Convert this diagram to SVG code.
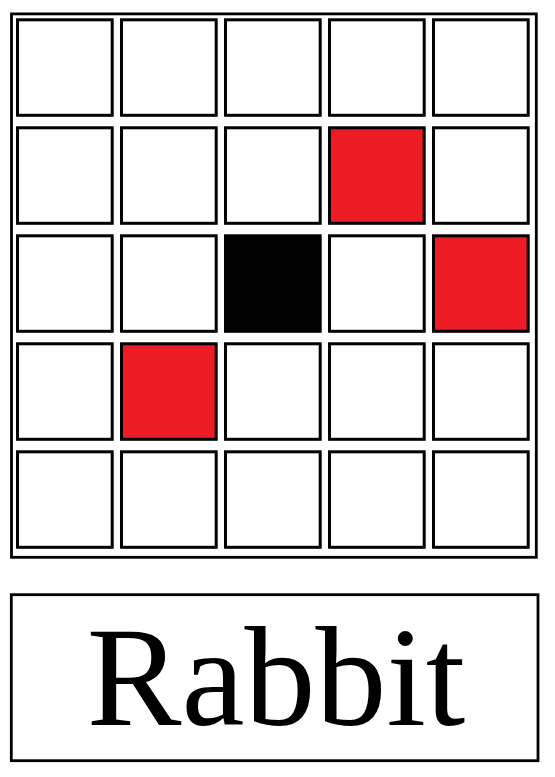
<svg xmlns="http://www.w3.org/2000/svg" width="555" height="777" viewBox="0 0 555 777">
<style>
.frame{fill:none;stroke:#000;stroke-width:2.8}
.cell{fill:#fff;stroke:#000;stroke-width:3}
.red{fill:#ED1C24}
.blk{fill:#000}
.lbl{font-family:"Liberation Serif","Times New Roman",serif;font-size:142px;fill:#000;text-anchor:middle}
</style>
<rect fill="#fff" x="0" y="0" width="555" height="777"/>
<g id="grid">
<rect class="frame" x="11.5" y="13.9" width="524.8" height="543.4"/>
<g id="r0">
<rect class="cell" x="17.5" y="19.8" width="94.7" height="95.5"/>
<rect class="cell" x="121.5" y="19.8" width="94.7" height="95.5"/>
<rect class="cell" x="225.5" y="19.8" width="94.7" height="95.5"/>
<rect class="cell" x="329.5" y="19.8" width="94.7" height="95.5"/>
<rect class="cell" x="433.5" y="19.8" width="94.7" height="95.5"/>
</g>
<g id="r1">
<rect class="cell" x="17.5" y="127.8" width="94.7" height="95.5"/>
<rect class="cell" x="121.5" y="127.8" width="94.7" height="95.5"/>
<rect class="cell" x="225.5" y="127.8" width="94.7" height="95.5"/>
<rect class="cell red" x="329.5" y="127.8" width="94.7" height="95.5"/>
<rect class="cell" x="433.5" y="127.8" width="94.7" height="95.5"/>
</g>
<g id="r2">
<rect class="cell" x="17.5" y="235.8" width="94.7" height="95.5"/>
<rect class="cell" x="121.5" y="235.8" width="94.7" height="95.5"/>
<rect class="cell blk" x="225.5" y="235.8" width="94.7" height="95.5"/>
<rect class="cell" x="329.5" y="235.8" width="94.7" height="95.5"/>
<rect class="cell red" x="433.5" y="235.8" width="94.7" height="95.5"/>
</g>
<g id="r3">
<rect class="cell" x="17.5" y="343.8" width="94.7" height="95.5"/>
<rect class="cell red" x="121.5" y="343.8" width="94.7" height="95.5"/>
<rect class="cell" x="225.5" y="343.8" width="94.7" height="95.5"/>
<rect class="cell" x="329.5" y="343.8" width="94.7" height="95.5"/>
<rect class="cell" x="433.5" y="343.8" width="94.7" height="95.5"/>
</g>
<g id="r4">
<rect class="cell" x="17.5" y="451.8" width="94.7" height="95.5"/>
<rect class="cell" x="121.5" y="451.8" width="94.7" height="95.5"/>
<rect class="cell" x="225.5" y="451.8" width="94.7" height="95.5"/>
<rect class="cell" x="329.5" y="451.8" width="94.7" height="95.5"/>
<rect class="cell" x="433.5" y="451.8" width="94.7" height="95.5"/>
</g>
</g>
<g id="label">
<rect class="frame" x="11.3" y="594.7" width="526.7" height="166"/>
<text class="lbl" x="276" y="725">Rabbit</text>
</g>
</svg>
